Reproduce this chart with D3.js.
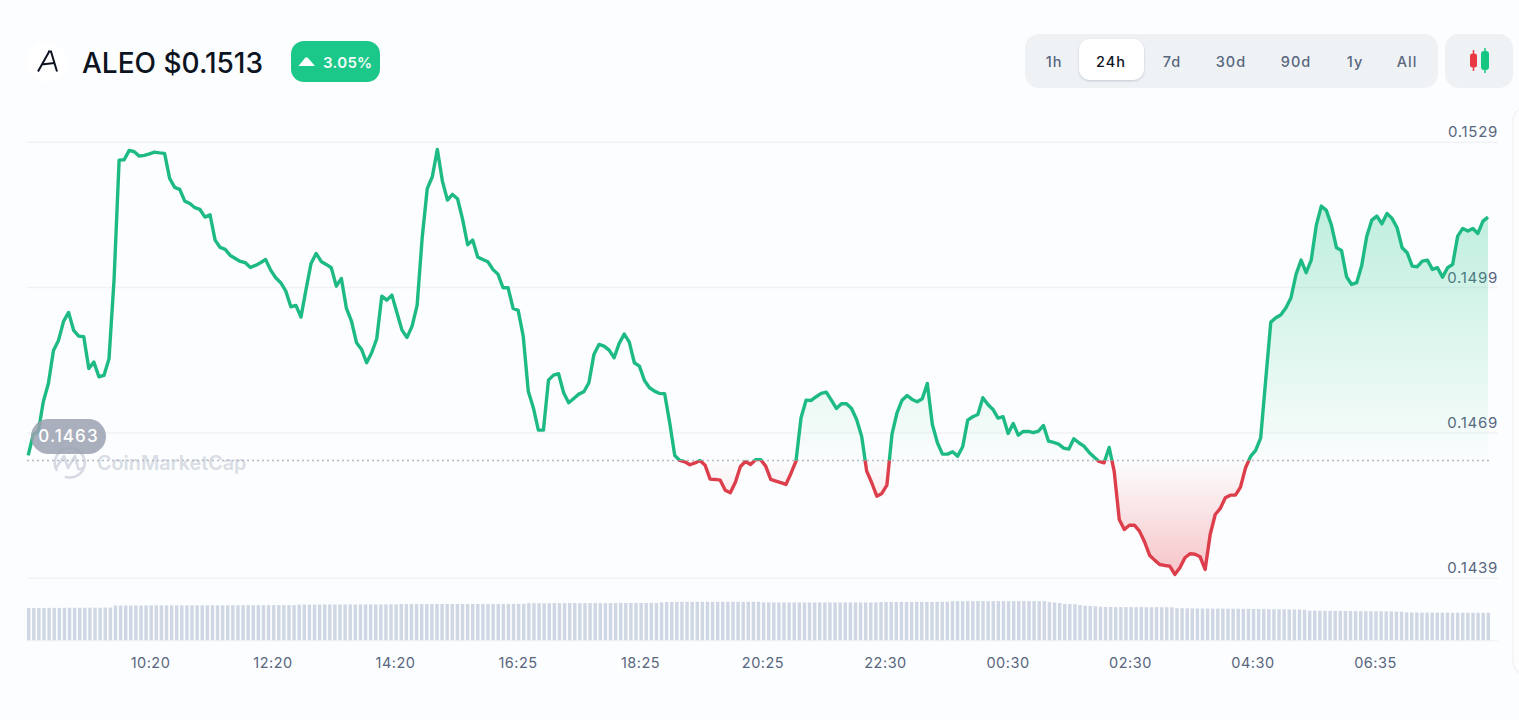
<!DOCTYPE html>
<html>
<head>
<meta charset="utf-8">
<title>ALEO price</title>
<script src="https://cdn.jsdelivr.net/npm/d3@7/dist/d3.min.js"></script>
<style>
  html, body { margin: 0; padding: 0; background: #fcfdfe; overflow: hidden; }
  svg { display: block; }
  text { font-family: Inter, "Noto Sans", sans-serif; }
</style>
</head>
<body>
<svg id="chart" width="1519" height="720"></svg>
<script>
// Price samples across the 24h window, oldest first
const prices = [
0.146425,0.146858,0.146920,0.147540,0.147911,0.148592,0.148799,0.149191,0.149377,0.149005,
0.148887,0.148875,0.148221,0.148351,0.148049,0.148076,0.148421,0.150058,0.152520,0.152528,
0.152720,0.152693,0.152603,0.152617,0.152648,0.152685,0.152669,0.152658,0.152142,0.151957,
0.151915,0.151674,0.151626,0.151538,0.151502,0.151344,0.151393,0.150869,0.150718,0.150677,
0.150553,0.150491,0.150429,0.150402,0.150305,0.150347,0.150402,0.150470,0.150250,0.150093,
0.149990,0.149816,0.149494,0.149521,0.149280,0.149851,0.150388,0.150594,0.150429,0.150367,
0.150299,0.149919,0.150078,0.149459,0.149197,0.148751,0.148613,0.148338,0.148545,0.148834,
0.149713,0.149630,0.149734,0.149370,0.149011,0.148861,0.149094,0.149527,0.150918,0.151930,
0.152177,0.152741,0.152087,0.151694,0.151812,0.151723,0.151296,0.150774,0.150869,0.150518,
0.150470,0.150423,0.150264,0.150167,0.149886,0.149886,0.149459,0.149418,0.148887,0.147752,
0.147410,0.146947,0.146947,0.147979,0.148082,0.148111,0.147719,0.147513,0.147602,0.147690,
0.147740,0.147926,0.148510,0.148716,0.148681,0.148598,0.148442,0.148737,0.148929,0.148764,
0.148338,0.148268,0.147973,0.147822,0.147752,0.147705,0.147699,0.147100,0.146425,0.146322,
0.146295,0.146233,0.146270,0.146322,0.146225,0.145936,0.145930,0.145915,0.145709,0.145655,
0.145874,0.146198,0.146301,0.146239,0.146338,0.146338,0.146204,0.145930,0.145895,0.145862,
0.145826,0.146054,0.146307,0.147203,0.147566,0.147560,0.147637,0.147705,0.147732,0.147566,
0.147395,0.147492,0.147492,0.147395,0.147168,0.146823,0.146101,0.145862,0.145585,0.145641,
0.145812,0.146858,0.147306,0.147566,0.147663,0.147581,0.147533,0.147595,0.147911,0.147065,
0.146687,0.146452,0.146452,0.146501,0.146411,0.146605,0.147154,0.147224,0.147271,0.147616,
0.147478,0.147374,0.147195,0.147224,0.146879,0.147086,0.146844,0.146920,0.146920,0.146894,
0.146927,0.147044,0.146720,0.146693,0.146658,0.146576,0.146555,0.146770,0.146687,0.146617,
0.146493,0.146394,0.146301,0.146274,0.146590,0.146095,0.145104,0.144898,0.144986,0.144986,
0.144863,0.144644,0.144367,0.144264,0.144175,0.144155,0.144140,0.143969,0.144107,0.144314,
0.144396,0.144388,0.144334,0.144072,0.144794,0.145207,0.145331,0.145552,0.145606,0.145606,
0.145771,0.146171,0.146404,0.146528,0.146790,0.147994,0.149176,0.149267,0.149329,0.149474,
0.149680,0.150161,0.150456,0.150196,0.150456,0.151172,0.151571,0.151482,0.151178,0.150712,
0.150656,0.150113,0.149954,0.149990,0.150347,0.150951,0.151282,0.151364,0.151207,0.151420,
0.151317,0.151125,0.150712,0.150609,0.150332,0.150320,0.150435,0.150456,0.150264,0.150299,
0.150105,0.150299,0.150367,0.150951,0.151110,0.151055,0.151110,0.151007,0.151261,0.151344
];

// Traded volume per interval, shown as the strip under the price line
const volumes = [
32.7,32.7,32.7,32.8,32.8,32.8,32.8,32.9,32.9,32.9,32.9,33.0,33.0,33.0,33.0,33.1,33.1,
35.2,35.2,35.2,35.2,35.2,35.2,35.3,35.3,35.3,35.3,35.3,35.3,35.3,35.3,35.4,35.4,35.4,35.4,35.4,35.4,35.4,35.4,35.4,35.5,35.5,35.5,35.5,35.5,35.5,35.5,35.5,35.6,35.6,35.6,35.6,35.6,
36.1,36.1,36.1,36.1,36.2,36.2,36.2,36.2,36.2,36.2,36.2,36.2,36.2,36.3,36.3,36.3,36.3,36.3,36.3,36.3,
36.6,36.6,36.6,36.6,36.6,36.6,36.7,36.7,36.7,36.7,36.7,36.7,36.7,36.7,36.7,36.7,36.8,36.8,36.8,36.8,36.8,36.8,36.8,36.8,36.8,
37.5,37.5,37.5,37.5,37.5,37.6,37.6,37.6,37.6,37.6,37.6,37.6,37.6,37.6,37.6,37.6,37.6,37.6,37.7,37.7,37.7,37.7,37.7,37.7,37.7,37.7,
38.4,38.6,38.7,38.8,
38.9,38.9,38.9,38.9,38.9,38.9,38.9,38.9,38.9,38.9,38.9,38.9,38.9,38.9,38.9,38.9,
38.3,38.3,38.3,38.2,38.2,38.2,38.2,38.2,38.2,38.2,38.2,38.2,38.2,38.2,38.2,38.2,38.2,38.2,38.2,38.2,38.2,38.2,38.2,
38.7,38.7,38.7,38.7,38.8,38.8,38.8,38.8,38.8,38.8,38.8,38.9,38.9,38.9,
39.5,39.5,39.5,39.6,39.6,39.6,39.6,39.6,39.6,39.6,39.6,39.6,39.6,39.6,39.6,39.6,39.6,39.5,39.5,
38.6,38.2,37.6,36.8,36.6,36.4,
35.6,35.0,34.8,34.4,34.0,
33.7,33.7,33.6,33.6,33.6,33.6,33.6,33.6,33.5,33.5,33.5,33.5,33.4,33.4,
32.5,32.4,32.4,32.3,32.3,32.2,32.2,32.1,32.1,32.0,32.0,31.9,31.9,31.8,31.8,31.7,31.7,31.6,31.5,31.5,31.4,31.4,31.3,31.2,31.1,31.0,
30.0,30.0,29.9,29.9,29.8,29.8,29.7,29.7,29.6,29.6,29.5,29.5,29.4,29.4,29.3,29.3,29.2,29.1,29.0,
28.2,28.2,28.2,28.1,28.1,28.1,28.1,28.0,28.0,28.0,28.0,28.0,27.9,27.9,27.9,27.9,27.9
];

const priceTicks = [0.1529, 0.1499, 0.1469, 0.1439];
const timeLabels = ["10:20","12:20","14:20","16:25","18:25","20:25","22:30","00:30","02:30","04:30","06:35"];
const ranges = ["1h","24h","7d","30d","90d","1y","All"];
const rangeCentres = [1054,1111,1172,1231,1296,1355,1407];
const activeRange = "24h";

const symbol = "ALEO";
const lastPriceLabel = "$0.1513";
const changeLabel = "3.05%";
const openPrice = 0.14632;
const openPriceLabel = "0.1463";
const firstShadedSample = 128;

const GREEN = "#1dbb83", RED = "#dc3f4b", MUTED = "#58667e", GRID = "#f0f2f5";

const svg = d3.select("#chart");
const defs = svg.append("defs");

const x = d3.scaleLinear().domain([0, prices.length - 1]).range([28.2, 1488]);
const y = d3.scaleLinear().domain([0.1439, 0.1529]).range([577.8, 141.7]);
const baseY = y(openPrice);

// Split everything drawn around the opening price into an upper and a lower half
const addClip = (id, top, bottom) =>
  defs.append("clipPath").attr("id", id).append("rect")
    .attr("x", 0).attr("width", 1519).attr("y", top).attr("height", bottom - top);
addClip("above", 0, baseY);
addClip("below", baseY, 720);

const addGradient = (id, colour, y1, y2, o1, o2) => {
  const g = defs.append("linearGradient").attr("id", id)
    .attr("gradientUnits", "userSpaceOnUse")
    .attr("x1", 0).attr("x2", 0).attr("y1", y1).attr("y2", y2);
  g.append("stop").attr("offset", 0).attr("stop-color", colour).attr("stop-opacity", o1);
  g.append("stop").attr("offset", 1).attr("stop-color", colour).attr("stop-opacity", o2);
};
addGradient("fillUp", "#16c784", 205, baseY, 0.27, 0.01);
addGradient("fillDown", "#ea3943", baseY, 578, 0.0, 0.3);

// Side panel peeking in at the right edge
svg.append("rect").attr("x", 1513).attr("y", 107).attr("width", 40).attr("height", 568)
  .attr("rx", 14).attr("fill", "#fdfdfe").attr("stroke", "#f1f3f6").attr("stroke-width", 1.5);

// Header: token mark, name and price, change badge
svg.append("circle").attr("cx", 47).attr("cy", 62).attr("r", 20).attr("fill", "#ffffff");
svg.append("path")
  .attr("d", "M49.5 51 L38 71.5 M48 51.5 L51 51.5 L57 71.5 M41.5 64.5 L54.5 63")
  .attr("fill", "none").attr("stroke", "#0d1421").attr("stroke-width", 2);
svg.append("text").attr("x", 82).attr("y", 72.5).attr("font-size", 28).attr("font-weight", 500)
  .attr("fill", "#0d1421").text(symbol + " " + lastPriceLabel);

svg.append("rect").attr("x", 291).attr("y", 41).attr("width", 89).attr("height", 41)
  .attr("rx", 13).attr("fill", "#1cc889");
svg.append("path").attr("d", "M298.5 66 L305 58 Q306.5 56.5 308 58 L315 66 Z").attr("fill", "#ffffff");
svg.append("text").attr("x", 323).attr("y", 67.5).attr("font-size", 15).attr("font-weight", 600)
  .attr("letter-spacing", 0.3).attr("fill", "#f2fbf8").text(changeLabel);

// Range selector
svg.append("rect").attr("x", 1025).attr("y", 34).attr("width", 413).attr("height", 54)
  .attr("rx", 14).attr("fill", "#eff2f5");
svg.append("rect").attr("x", 1079).attr("y", 39).attr("width", 65).attr("height", 41)
  .attr("rx", 11).attr("fill", "#ffffff")
  .style("filter", "drop-shadow(0 1px 1px rgba(88,102,126,0.3))");
svg.append("g").selectAll("text").data(ranges).join("text")
  .attr("x", (d, i) => rangeCentres[i]).attr("y", 66.5)
  .attr("text-anchor", "middle").attr("font-size", 14.5).attr("font-weight", 500)
  .attr("letter-spacing", 1)
  .attr("fill", d => d === activeRange ? "#0d1421" : MUTED)
  .text(d => d);

// Candlestick toggle
svg.append("rect").attr("x", 1445).attr("y", 34).attr("width", 68).attr("height", 54)
  .attr("rx", 14).attr("fill", "#eff2f5");
svg.append("line").attr("x1", 1473.5).attr("x2", 1473.5).attr("y1", 50).attr("y2", 71).attr("stroke", "#ea3943").attr("stroke-width", 1.5);
svg.append("rect").attr("x", 1470).attr("y", 53.5).attr("width", 7).attr("height", 14).attr("rx", 2.5).attr("fill", "#ea3943");
svg.append("line").attr("x1", 1485).attr("x2", 1485).attr("y1", 48).attr("y2", 73).attr("stroke", "#16c784").attr("stroke-width", 1.5);
svg.append("rect").attr("x", 1481).attr("y", 51).attr("width", 8).attr("height", 19).attr("rx", 3).attr("fill", "#16c784");

// Horizontal grid and price labels
const yAxis = svg.append("g").call(
  d3.axisRight(y).tickValues(priceTicks).tickSize(1471).tickFormat(d3.format(".4f"))
).attr("transform", "translate(27,0)");
yAxis.select(".domain").remove();
yAxis.selectAll("line").attr("stroke", GRID).attr("stroke-width", 1.5);
yAxis.selectAll("text")
  .attr("x", 1471).attr("dy", -5).attr("text-anchor", "end")
  .attr("font-size", 15).attr("letter-spacing", 0.7).attr("fill", MUTED)
  .style("font-family", "Inter, sans-serif");

// Watermark
const mark = svg.append("g").attr("fill", "none").attr("stroke", "#d6dae3").attr("stroke-width", 2.6)
  .attr("stroke-linecap", "round").attr("stroke-linejoin", "round");
mark.append("path").attr("d", "M56.5 470 A15 15 0 1 1 84.5 466 A15 15 0 0 1 66 477");
mark.append("path").attr("d", "M56 468 L64 456 L68 468 L75 456 L78 468 Q79 471 84 467");
svg.append("text").attr("x", 97).attr("y", 470).attr("font-size", 19.8).attr("font-weight", 600)
  .attr("fill", "#d9dde5").text("CoinMarketCap");

// Opening-price reference line
svg.append("line").attr("x1", 27).attr("x2", 1490).attr("y1", baseY).attr("y2", baseY)
  .attr("stroke", "#b4bac5").attr("stroke-width", 1.5).attr("stroke-dasharray", "2 3");

// Shaded bands between the price and the opening level
const band = d3.area().x((d, i) => x(i + firstShadedSample)).y0(baseY).y1(d => y(d));
const shaded = prices.slice(firstShadedSample);
svg.append("path").datum(shaded).attr("d", band).attr("fill", "url(#fillUp)").attr("clip-path", "url(#above)");
svg.append("path").datum(shaded).attr("d", band).attr("fill", "url(#fillDown)").attr("clip-path", "url(#below)");

// Price line, coloured by which side of the opening price it sits on
const line = d3.line().x((d, i) => x(i)).y(d => y(d));
svg.append("path").datum(prices).attr("d", line).attr("fill", "none")
  .attr("stroke", GREEN).attr("stroke-width", 3.4).attr("stroke-linejoin", "round").attr("clip-path", "url(#above)");
svg.append("path").datum(prices).attr("d", line).attr("fill", "none")
  .attr("stroke", RED).attr("stroke-width", 3.4).attr("stroke-linejoin", "round").attr("clip-path", "url(#below)");

// Opening-price pill
svg.append("rect").attr("x", 31).attr("y", 419).attr("width", 75).attr("height", 35)
  .attr("rx", 17.5).attr("fill", "#9aa1b0").attr("fill-opacity", 0.85);
svg.append("text").attr("x", 68.5).attr("y", 442).attr("text-anchor", "middle")
  .attr("font-size", 17).attr("font-weight", 500).attr("letter-spacing", 1.1).attr("fill", "#ffffff")
  .text(openPriceLabel);

// Volume strip
const xVol = d3.scaleBand().domain(d3.range(volumes.length)).range([27, 1490]).paddingInner(0.33).paddingOuter(0);
const yVol = d3.scaleLinear().domain([0, 40]).range([640.7, 600.7]);
svg.append("g").selectAll("rect").data(volumes).join("rect")
  .attr("x", (d, i) => xVol(i)).attr("width", xVol.bandwidth())
  .attr("y", d => yVol(d)).attr("height", d => yVol(0) - yVol(d))
  .attr("fill", "#cfd6e4");
svg.append("line").attr("x1", 27).attr("x2", 1498).attr("y1", 640.8).attr("y2", 640.8)
  .attr("stroke", GRID).attr("stroke-width", 1);

// Time axis
const xTime = d3.scalePoint().domain(timeLabels).range([150, 1375]);
const xAxis = svg.append("g").attr("transform", "translate(0,645)")
  .call(d3.axisBottom(xTime).tickSize(0).tickPadding(0));
xAxis.select(".domain").remove();
xAxis.selectAll("text").attr("y", 22.5).attr("dy", 0).attr("font-size", 14.5).attr("letter-spacing", 0.5)
  .attr("fill", MUTED).style("font-family", "Inter, sans-serif");
</script>
</body>
</html>
